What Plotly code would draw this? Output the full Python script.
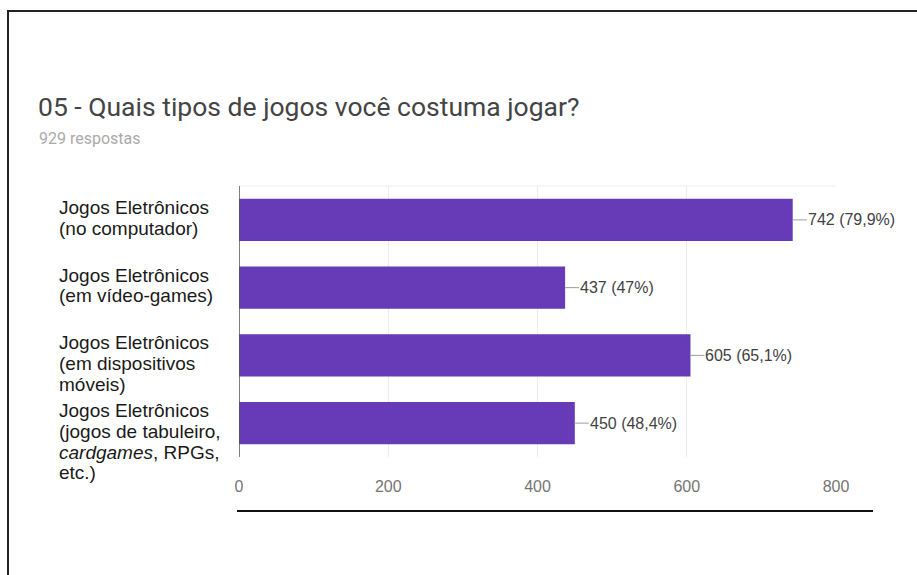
import plotly.graph_objects as go

# Survey answers: "05 - Quais tipos de jogos você costuma jogar?"
categories = [
    "Jogos Eletrônicos<br>(no computador)",
    "Jogos Eletrônicos<br>(em vídeo-games)",
    "Jogos Eletrônicos<br>(em dispositivos<br>móveis)",
    "Jogos Eletrônicos<br>(jogos de tabuleiro,<br><i>cardgames</i>, RPGs,<br>etc.)",
]
counts = [742, 437, 605, 450]
total_responses = 929
x_ticks = [0, 200, 400, 600, 800]

title_text = "05 - Quais tipos de jogos você costuma jogar?"
subtitle_text = f"{total_responses} respostas"

W, H = 917, 575
L, R, T, B = 239, 81, 186, 118
PW, PH = W - L - R, H - T - B
BAR_COLOR = "#673ab7"
LABEL_LINE_STEP = 20.7  # px between lines of a category label


def px_x(px):
    return (px - L) / PW


def px_y(py):
    return (H - B - py) / PH


def pct_label(v):
    p = round(v / total_responses * 100, 1)
    s = f"{p:.1f}".rstrip("0").rstrip(".")
    return f"{v} ({s.replace('.', ',')}%)"


ypos = list(range(len(categories)))

fig = go.Figure(
    go.Bar(
        x=counts,
        y=ypos,
        orientation="h",
        marker=dict(color=BAR_COLOR, line=dict(width=0)),
        hoverinfo="skip",
    )
)

annotations = []
# value labels with a short leader line from the bar end
for i, v in zip(ypos, counts):
    annotations.append(dict(
        x=v, y=i, xref="x", yref="y",
        text=pct_label(v), showarrow=True, arrowhead=0, arrowwidth=1,
        arrowcolor="#9e9e9e", ax=14, ay=0, xanchor="left",
        standoff=0, borderpad=0,
        font=dict(family="Liberation Sans, Arial", size=16, color="#424242"),
    ))

# category labels, left aligned, first line level with the bar top
for i, c in zip(ypos, categories):
    for k, line in enumerate(c.split("<br>")):
        annotations.append(dict(
            x=px_x(58), y=i, xref="paper", yref="y",
            text=line, showarrow=False, xanchor="left", yanchor="top",
            align="left", yshift=24 - k * LABEL_LINE_STEP, borderpad=0,
            font=dict(family="Liberation Sans, Arial", size=19, color="#1a1a1a"),
        ))

annotations.append(dict(
    x=px_x(36), y=px_y(107), xref="paper", yref="paper",
    text=title_text, showarrow=False, xanchor="left", yanchor="middle",
    font=dict(family="Roboto", size=26.5, color="#444444"),
))
annotations.append(dict(
    x=px_x(37), y=px_y(138), xref="paper", yref="paper",
    text=subtitle_text, showarrow=False, xanchor="left", yanchor="middle",
    font=dict(family="Roboto", size=16, color="#aaaaaa"),
))

shapes = [
    # outer frame (left and top edges)
    dict(type="line", xref="paper", yref="paper",
         x0=px_x(8), x1=px_x(8), y0=px_y(11), y1=px_y(H + 2),
         line=dict(color="#222222", width=2)),
    dict(type="line", xref="paper", yref="paper",
         x0=px_x(7), x1=px_x(W + 2), y0=px_y(11), y1=px_y(11),
         line=dict(color="#222222", width=2)),
    # baseline rule under the chart
    dict(type="line", xref="paper", yref="paper",
         x0=px_x(237), x1=px_x(873), y0=px_y(511), y1=px_y(511),
         line=dict(color="#111111", width=2)),
    # chart area top edge
    dict(type="line", xref="paper", yref="paper",
         x0=0, x1=1, y0=1, y1=1, line=dict(color="#eeeeee", width=1)),
]

fig.update_layout(
    width=W, height=H,
    margin=dict(l=L, r=R, t=T, b=B, pad=0),
    paper_bgcolor="white", plot_bgcolor="white",
    showlegend=False,
    bargap=0.375,
    annotations=annotations,
    shapes=shapes,
    xaxis=dict(
        range=[0, 800], tickvals=x_ticks, ticktext=[str(t) for t in x_ticks],
        showgrid=True, gridcolor="#ececec", gridwidth=1,
        zeroline=False, showline=False, ticks="",
        ticklabelstandoff=18,
        tickfont=dict(family="Liberation Sans, Arial", size=16, color="#757575"),
        fixedrange=True,
    ),
    yaxis=dict(
        range=[3.5, -0.5], showticklabels=False, showgrid=False,
        zeroline=False, showline=False, ticks="", fixedrange=True,
    ),
)

# vertical axis line at x = 0
fig.add_shape(type="line", xref="x", yref="paper", x0=0, x1=0, y0=0, y1=1,
              line=dict(color="#555555", width=1.5))

fig.write_html("out.html")
